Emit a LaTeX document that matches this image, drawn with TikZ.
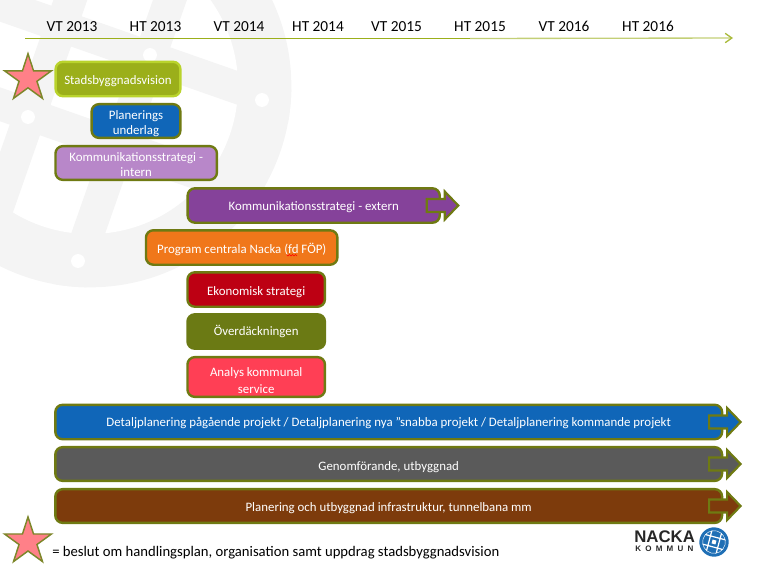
\documentclass[tikz,border=0pt]{standalone}
\usepackage{fontspec}
\setmainfont[Numbers=Lining]{Carlito}
\newfontfamily\logofont{Liberation Sans}
\usetikzlibrary{shapes.geometric,arrows.meta}
\definecolor{wm}{HTML}{F4F4F4}
\definecolor{olive}{HTML}{6F7A12}
\definecolor{limeb}{HTML}{B9D32C}
\definecolor{cLime}{HTML}{9BAF1A}
\definecolor{cBlue}{HTML}{1066B8}
\definecolor{cLilac}{HTML}{B887C9}
\definecolor{cPurple}{HTML}{85429A}
\definecolor{cOrange}{HTML}{F0771A}
\definecolor{cRed}{HTML}{BD0013}
\definecolor{cOlive}{HTML}{6B7A14}
\definecolor{cPink}{HTML}{FF3F55}
\definecolor{cGrey}{HTML}{5A5A5A}
\definecolor{cBrown}{HTML}{7D3B0C}
\definecolor{cStar}{HTML}{FF8088}
\definecolor{cLogo}{HTML}{1F6FB5}
\tikzset{
  x=0.75pt,y=-0.75pt,
  box/.style={draw=olive,line width=1.8pt,rounded corners=5.5pt,text=white,align=center,
    font=\fontsize{9.65}{11.25}\selectfont,inner sep=0pt,outer sep=0pt},
  oneline/.style={execute at begin node={\rule[-3.5pt]{0pt}{#1}}},
  yr/.style={font=\fontsize{11.5}{13}\selectfont,text=black,inner sep=0pt},
  blockarr/.style={draw=olive,line width=1.6pt,miter limit=4},
  starshape/.style={star,star points=5,star point ratio=2.618,minimum size=37pt,inner sep=0pt,
    fill=cStar,draw=olive!90!white,line width=1.1pt},
}
\newcommand{\blockarrow}[2]{%
  \draw[blockarr,fill=#2] ([shift={(-13,-6.5)}]#1.east) -- ++(18,0) -- ++(0,-7.5) -- ++(13.5,14) -- ++(-13.5,14) -- ++(0,-7.5) -- ++(-18,0) -- cycle;}
\begin{document}
\begin{tikzpicture}
\useasboundingbox (0,0) rectangle (759,569);
% watermark
\begin{scope}
  \clip (0,0) rectangle (759,569);
  \fill[wm] (90,86) circle[radius=151pt];
  \fill[white] (90,86) circle[radius=111pt];
  \begin{scope}
    \clip (90,86) circle[radius=151pt];
    \begin{scope}[shift={(90,86)},rotate=-19.3]
      \fill[wm] (-63,-210) rectangle (-31,210);
      \fill[wm] (31,-210) rectangle (63,210);
      \fill[wm] (-210,-63) rectangle (210,-31);
      \fill[wm] (-210,31) rectangle (210,63);
    \end{scope}
  \end{scope}
  \fill[white] (262,100) circle[radius=5.2pt];
  \fill[white] (78,261) circle[radius=5.2pt];
  \fill[white] (28,117) circle[radius=5.2pt];
  \fill[white] (150,55) circle[radius=5.2pt];
\end{scope}
% timeline
\coordinate (t0) at (25,38.5);
\coordinate (t1) at (470,38.5);
\coordinate (t2) at (733,38);
\draw[color=cLime,line width=1pt] (t0) -- (t1);
\draw[color=cLime!60!white,line width=1pt,-{Straight Barb[length=5pt,width=7pt,color=cLime!85!white]}] (t1) -- (t2);
\node[yr] (y1) at (72,26.5) {VT 2013};
\node[yr] (y2) at (155.5,26.5) {HT 2013};
\node[yr] (y3) at (239,26.5) {VT 2014};
\node[yr] (y4) at (318,26.5) {HT 2014};
\node[yr] (y5) at (396.5,26.5) {VT 2015};
\node[yr] (y6) at (480,26.5) {HT 2015};
\node[yr] (y7) at (564,26.5) {VT 2016};
\node[yr] (y8) at (648,26.5) {HT 2016};
% stars
\node[starshape] (s1) at (28,78.4) {};
\node[starshape] (s2) at (28,541.6) {};
% boxes
\node[box,oneline=14.5pt,draw=limeb,fill=cLime,minimum width=93.6pt,minimum height=25.8pt] (a) at (118,79) {Stadsbyggnadsvision};
\node[box,fill=cBlue,minimum width=66.6pt,minimum height=25.3pt] (b) at (136,121) {\rule{0pt}{10pt}Planerings\\underlag};
\node[box,fill=cLilac,minimum width=121.1pt,minimum height=25.3pt] (c) at (136.2,163) {\rule{0pt}{9pt}Kommunikationsstrategi -\\intern};
\node[box,oneline=14.5pt,fill=cPurple,minimum width=189.1pt,minimum height=25.8pt] (d) at (313.7,205.5) {Kommunikationsstrategi - extern};
\node[box,oneline=16pt,fill=cOrange,minimum width=143.6pt,minimum height=25.8pt] (e) at (241.7,247.5) {Program centrala Nacka (fd FÖP)};
\node[box,oneline=16pt,fill=cRed,minimum width=103.1pt,minimum height=25.8pt] (f) at (256.2,289.5) {Ekonomisk strategi};
\node[box,oneline=13pt,draw=cOlive,fill=cOlive,minimum width=103.1pt,minimum height=25.8pt] (g) at (256.2,331.5) {Överdäckningen};
\node[box,fill=cPink,minimum width=103.1pt,minimum height=29.8pt] (h) at (256.2,377) {\rule{0pt}{11.5pt}Analys kommunal\\[1.5pt]service};
\node[box,oneline=13pt,fill=cBlue,minimum width=500.1pt,minimum height=25.8pt] (i) at (388.7,422) {Detaljplanering pågående projekt / Detaljplanering nya ”snabba projekt / Detaljplanering kommande projekt};
\node[box,oneline=16pt,fill=cGrey,minimum width=500.1pt,minimum height=25.3pt] (j) at (388.7,464) {Genomförande, utbyggnad};
\node[box,oneline=14.5pt,fill=cBrown,minimum width=500.1pt,minimum height=25.3pt] (k) at (388.7,506) {Planering och utbyggnad infrastruktur, tunnelbana mm};
\blockarrow{d}{cPurple}
\blockarrow{i}{cBlue}
\blockarrow{j}{cGrey}
\blockarrow{k}{cBrown}
% spell-check mark
\draw[red,line width=0.35pt] (286.5,254.5) -- (288,256) -- (289.5,254.5) -- (291,256) -- (292.5,254.5) -- (294,256) -- (295.5,254.5) -- (297,256);
% legend
\node[anchor=west,inner sep=0pt,font=\fontsize{11}{13}\selectfont,text=black] (legend) at (52,553) {= beslut om handlingsplan, organisation samt uppdrag stadsbyggnadsvision};
% logo
\node[anchor=west,inner sep=0pt,font=\logofont\bfseries\fontsize{12.6}{13}\selectfont,text=black!85] (n1) at (634,537) {NACKA};
\node[anchor=west,inner sep=0pt,font=\logofont\bfseries\fontsize{6}{7}\selectfont,text=black!85] (n2) at (635,549) {K\hskip3.2pt O\hskip3.2pt M\hskip3.2pt M\hskip3.2pt U\hskip3.2pt N};
\begin{scope}[shift={(714,542)},rotate=-15]
  \fill[cLogo] (0,0) circle[radius=11pt];
  \clip (0,0) circle[radius=8.7pt];
  \draw[white,line width=0.9pt] (-5,-16) -- (-5,16) (5,-16) -- (5,16) (-16,-5) -- (16,-5) (-16,5) -- (16,5);
  \fill[white] (-2,-2) rectangle (2,2);
  \draw[white,line width=0.7pt] (0,0) circle[radius=8.7pt];
\end{scope}
\end{tikzpicture}
\end{document}
